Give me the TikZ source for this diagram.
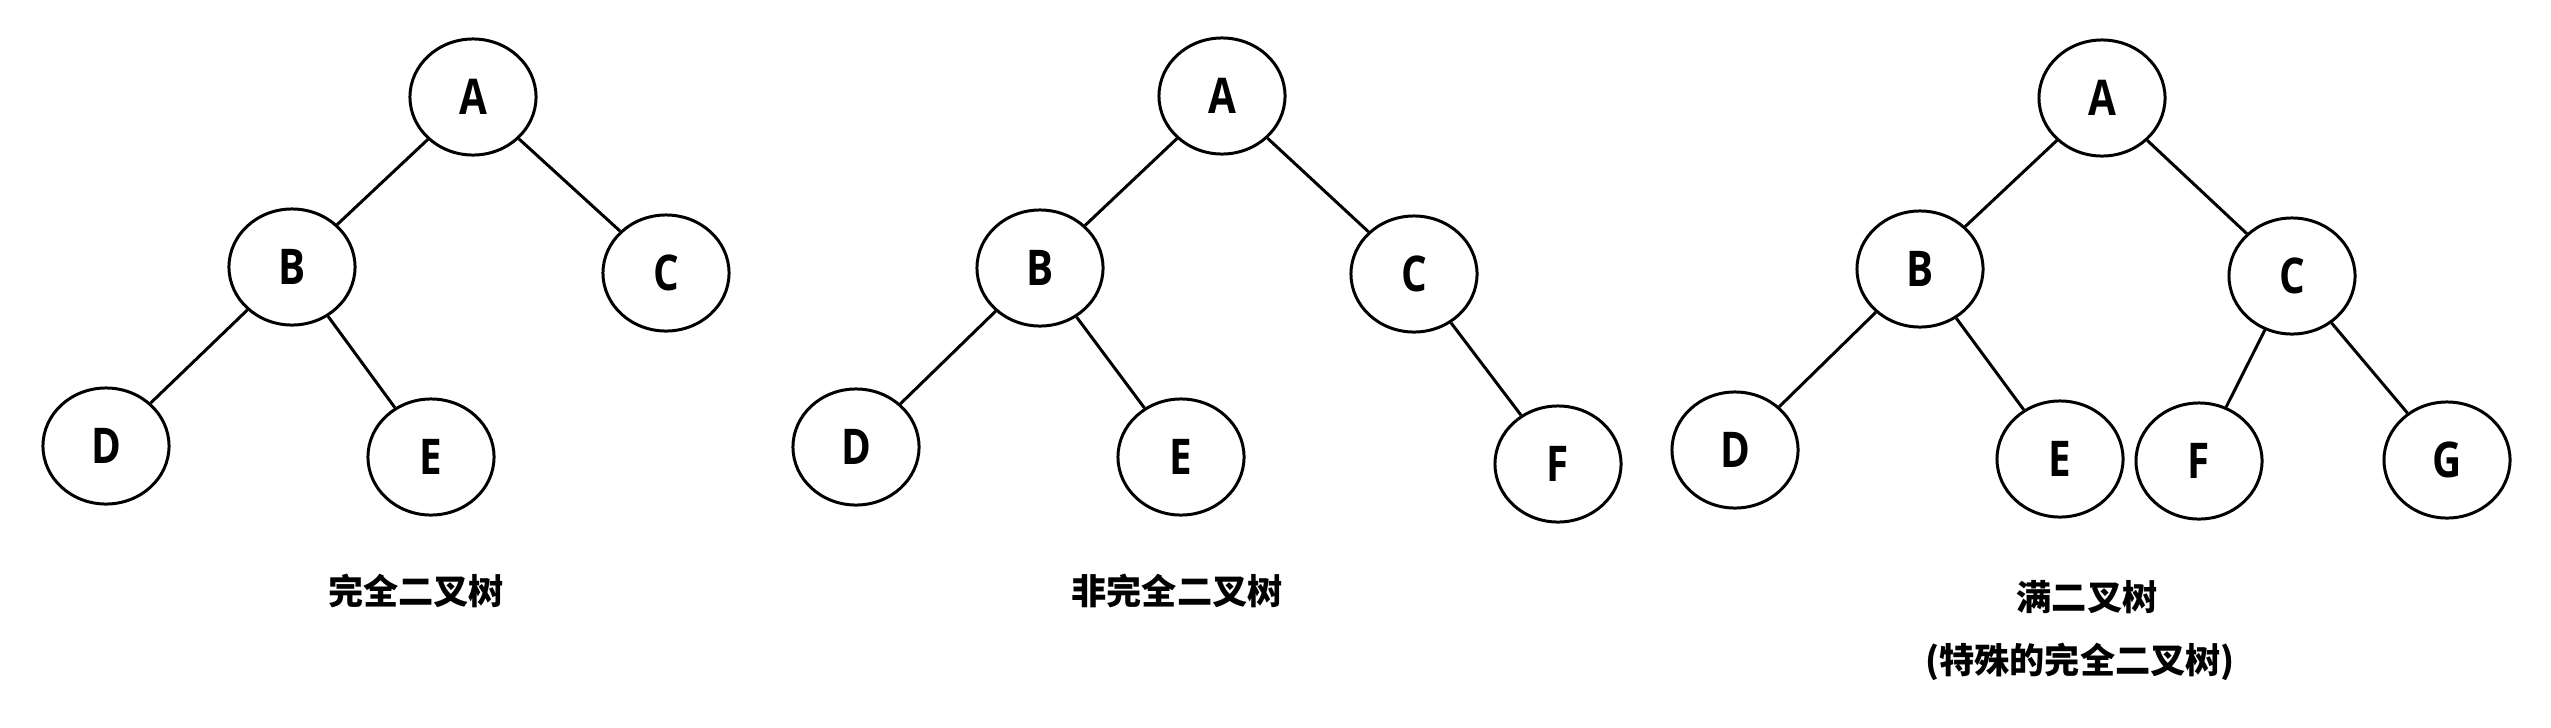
\documentclass[tikz,border=0pt]{standalone}
\usepackage{fontspec}
\setmainfont{Open Sans}[FakeStretch=0.82]
\newfontfamily\cjk{Noto Sans CJK SC}
\usetikzlibrary{shapes.geometric}
\begin{document}
\begin{tikzpicture}[x=0.01cm,y=-0.01cm,line width=0.85pt,
	vtx/.style={draw,ellipse,inner sep=0pt,minimum width=1.26cm,minimum height=1.16cm,font=\fontsize{14}{16}\selectfont\bfseries},
	ttl/.style={font=\cjk\fontsize{10}{12}\selectfont\bfseries}]
	\useasboundingbox (0,0) rectangle (2551,727);
	% complete tree
	\node[vtx] (A1) at (473,97) {A};
	\node[vtx] (B1) at (292,267) {B};
	\node[vtx] (C1) at (666,273) {C};
	\node[vtx] (D1) at (106,446) {D};
	\node[vtx] (E1) at (431,457) {E};
	% not complete
	\node[vtx] (A2) at (1222,96) {A};
	\node[vtx] (B2) at (1040,268) {B};
	\node[vtx] (C2) at (1414,274) {C};
	\node[vtx] (D2) at (856,447) {D};
	\node[vtx] (E2) at (1181,457) {E};
	\node[vtx] (F2) at (1558,464) {F};
	% full tree
	\node[vtx] (A3) at (2102,98) {A};
	\node[vtx] (B3) at (1920,269) {B};
	\node[vtx] (C3) at (2292,276) {C};
	\node[vtx] (D3) at (1735,450) {D};
	\node[vtx] (E3) at (2060,459) {E};
	\node[vtx] (F3) at (2199,461) {F};
	\node[vtx] (G3) at (2447,460) {G};
	\foreach \u/\v in {A1/B1,A1/C1,B1/D1,B1/E1,A2/B2,A2/C2,B2/D2,B2/E2,C2/F2,A3/B3,A3/C3,B3/D3,B3/E3,C3/F3,C3/G3}
		\draw (\u)--(\v);
	\node[ttl] (t1) at (416,591) {完全二叉树};
	\node[ttl] (t2) at (1177,591) {非完全二叉树};
	\node[ttl] (t3) at (2087,597) {满二叉树};
	\node[ttl] (t4) at (2080,662) {(特殊的完全二叉树)};
\end{tikzpicture}
\end{document}
